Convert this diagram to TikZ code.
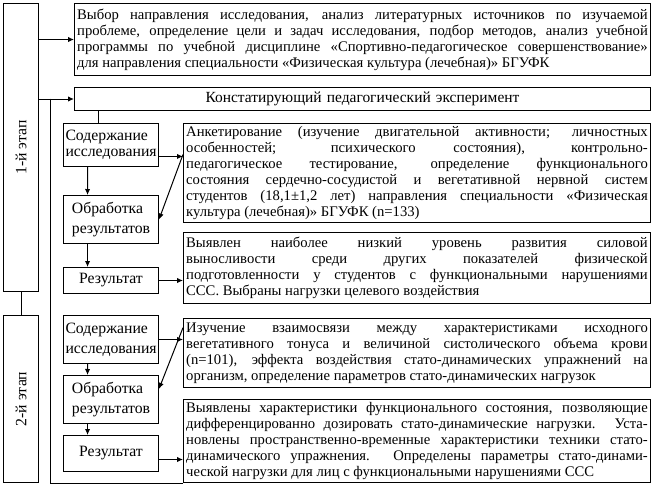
\documentclass[tikz,border=0pt]{standalone}
\usepackage{fontspec}
\setmainfont{Liberation Serif}
\usepackage{graphicx}
\usetikzlibrary{arrows.meta}

\newcommand{\mainfs}{\fontsize{11}{12}\selectfont}
\newcommand{\stepfs}{\fontsize{11.8}{15}\selectfont}
\tolerance=10000
\hyphenpenalty=10000
\exhyphenpenalty=10000

\tikzset{every picture/.style={line width=0.75pt}}
\tikzset{
	txtbox/.style={draw, anchor=north west, inner xsep=2pt, inner ysep=1pt, align=justify, font=\mainfs},
	wide/.style={text width=428pt},
	narrow/.style={text width=346.25pt},
	stepbox/.style={draw, anchor=north west, inner xsep=1.5pt, inner ysep=1pt, align=left, minimum width=71.25pt, font=\stepfs},
	stagebox/.style={draw, anchor=north west, inner sep=0pt, minimum width=26.25pt, font=\stepfs},
	arr/.style={-{Latex[length=4.5pt,width=4pt]}},
}

\begin{document}
\begin{tikzpicture}[x=0.75pt,y=0.75pt,yscale=-1,xscale=1]
	\useasboundingbox (0,0) rectangle (654,486);
	
	% Stage Nodes
	\draw (3,3) node [stagebox, minimum height=216pt] (stage1) {\rotatebox{90}{1-й этап}};
	\draw (3,315) node [stagebox, minimum height=125.25pt] (stage2) {\rotatebox{90}{2-й этап}};
	
	% Text Node
	\draw (74,3) node [txtbox, wide, minimum height=54pt] (top) {Выбор направления исследования, анализ литературных источников по изучаемой\linebreak проблеме, определение цели и задач исследования, подбор методов, анализ учебной\linebreak программы по учебной дисциплине «Спортивно-педагогическое совершенствование»\linebreak для направления специальности «Физическая культура (лечебная)» БГУФК};
	% Text Node
	\draw (74,87) node [txtbox, wide, align=center, minimum height=17.25pt, font=\fontsize{11.6}{12}\selectfont] (konst) {Констатирующий педагогический эксперимент};
	
	% Step Nodes, 1st stage
	\draw (63,123) node [stepbox, minimum height=32.25pt] (s1) {Содержание\\[-3pt]исследования};
	\draw (63,195) node [stepbox, minimum height=36pt] (o1) {Обработка\\результатов};
	\draw (63,267) node [stepbox, align=center, minimum height=19.5pt] (r1) {Результат};
	% Step Nodes, 2nd stage
	\draw (63,315) node [stepbox, minimum height=36pt] (s2) {Содержание\\исследования};
	\draw (63,375) node [stepbox, minimum height=36pt] (o2) {Обработка\\результатов};
	\draw (63,435) node [stepbox, align=center, minimum height=27pt] (r2) {Результат};
	
	% Text Node
	\draw (183,123) node [txtbox, narrow, minimum height=74.25pt] (t1) {Анкетирование (изучение двигательной активности; личностных\linebreak особенностей; психического состояния), контрольно-\linebreak педагогическое тестирование, определение функционального\linebreak состояния сердечно-сосудистой и вегетативной нервной систем\linebreak студентов (18,1±1,2 лет) направления специальности «Физическая\linebreak культура (лечебная)» БГУФК (n=133)};
	% Text Node
	\draw (183,232) node [txtbox, narrow, minimum height=53.25pt] (t2) {Выявлен наиболее низкий уровень развития силовой\linebreak выносливости среди других показателей физической\linebreak подготовленности у студентов с функциональными нарушениями\linebreak ССС. Выбраны нагрузки целевого воздействия};
	% Text Node
	\draw (183,318) node [txtbox, narrow, minimum height=51.75pt] (t3) {Изучение взаимосвязи между характеристиками исходного\linebreak вегетативного тонуса и величиной систолического объема крови\linebreak (n=101), эффекта воздействия стато-динамических упражнений на\linebreak организм, определение параметров стато-динамических нагрузок};
	% Text Node
	\draw (183,399) node [txtbox, narrow, minimum height=62.25pt] (t4) {Выявлены характеристики функционального состояния, позволяющие\linebreak дифференцированно дозировать стато-динамические нагрузки. Уста-\linebreak новлены пространственно-временные характеристики техники стато-\linebreak динамического упражнения. Определены параметры стато-динами-\linebreak ческой нагрузки для лиц с функциональными нарушениями ССС};
	
	% Straight Lines
	\draw (stage1.south) -- (stage2.north);
	\draw [arr] (stage1.east |- top.west) -- (top.west);
	\draw [arr] (stage1.east |- konst.west) -- (konst.west);
	\coordinate (j1) at (50,98.5);
	\draw (j1) |- (t4.south west);
	\draw ([xshift=-9.4pt]s1.north) -- ([xshift=-9.4pt]s1.north |- konst.south);
	
	% Arrows, 1st stage
	\draw [arr] ([xshift=-17.6pt]s1.south) -- ([xshift=-17.6pt]o1.north);
	\draw [arr] ([xshift=-17.6pt]o1.south) -- ([xshift=-17.6pt]r1.north);
	\draw [arr] ([yshift=8.6pt]s1.east) -- ([yshift=8.6pt]s1.east -| t1.west);
	\draw [arr] ([yshift=-13.9pt]t1.west) -- (o1.east);
	\draw [arr] (r1.east) -- (r1.east -| t2.west);
	% Arrows, 2nd stage
	\draw [arr] ([xshift=-17.6pt]s2.south) -- ([xshift=-17.6pt]o2.north);
	\draw [arr] ([xshift=-17.6pt]o2.south) -- ([xshift=-17.6pt]r2.north);
	\draw [arr] (s2.east) -- (s2.east -| t3.west);
	\draw [arr] ([yshift=-19pt]t3.west) -- ([yshift=-8pt]o2.east);
	\draw [arr] ([yshift=4.5pt]r2.east) -- ([yshift=4.5pt]r2.east -| t4.west);
	
\end{tikzpicture}
\end{document}
